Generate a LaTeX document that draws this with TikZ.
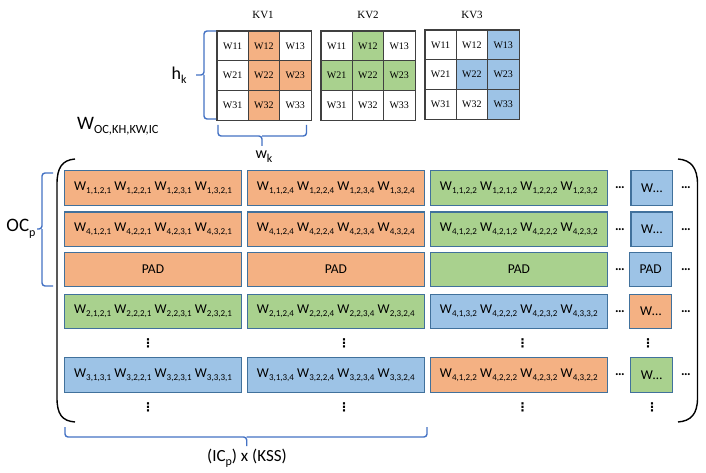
\documentclass[tikz,border=0pt]{standalone}
\usepackage{fontspec}
\setmainfont{Carlito}
\newfontfamily\tnr{Liberation Serif}
\newfontfamily\djv{DejaVu Sans}
\definecolor{orF}{HTML}{F4B183}
\definecolor{grF}{HTML}{A9D18E}
\definecolor{blF}{HTML}{9DC3E6}
\definecolor{edgeC}{HTML}{41719C}
\definecolor{brC}{HTML}{4472C4}
\newcommand\ws[1]{W\kern0.2pt\raisebox{-0.45ex}{\fontsize{9}{9}\selectfont #1}}
\newcommand\wrow[4]{\ws{#1} \ws{#2} \ws{#3} \ws{#4}}
\newcommand\subx[1]{\raisebox{-0.5ex}{\fontsize{12}{12}\selectfont #1}}
\begin{document}
\begin{tikzpicture}[x=1pt,y=-1pt,
  wbox/.style={draw=edgeC, line width=1.1pt, minimum width=177pt, minimum height=34.5pt, inner sep=0pt, font=\fontsize{13.5}{14}\selectfont},
  sbox/.style={wbox, minimum width=41.7pt},
  kcell/.style={draw=black!75, line width=0.6pt, minimum width=31.3pt, minimum height=29.8pt, inner sep=0pt, font=\tnr\fontsize{10}{10}\selectfont},
  kgrid/.style={draw=black!75, line width=1.4pt},
  kvlab/.style={font=\tnr\fontsize{11}{12}\selectfont},
  hdots/.style={inner sep=0pt, font=\bfseries\fontsize{13.5}{14}\selectfont},
  vdot/.style={inner sep=0pt, font=\djv\bfseries\fontsize{12}{12}\selectfont},
  brk/.style={draw=brC, line width=1.4pt, rounded corners=3pt},
  paren/.style={draw=black, line width=1.4pt},
  lbl/.style={inner sep=0pt}
]
\useasboundingbox (0,0) rectangle (706,473);
\fill[white] (0,0) rectangle (706,473);

% ---- kernel grids ----
\node[kvlab] (t1) at (263,15) {KV1};
\node[kvlab] (t2) at (368,15) {KV2};
\node[kvlab] (t3) at (472,15) {KV3};
\foreach \r in {1,2,3}{\foreach \c in {1,2,3}{
  \pgfmathtruncatemacro\on{(\c==2)||(\r==2&&\c==3)}
  \ifnum\on=1 \def\fc{orF}\else\def\fc{white}\fi
  \node[kcell, fill=\fc] (ka-\r\c) at ({217+31.3*(\c-0.5)},{31+29.8*(\r-0.5)}) {W\r\c};
  \pgfmathtruncatemacro\on{(\r==2)||(\r==1&&\c==2)}
  \ifnum\on=1 \def\fc{grF}\else\def\fc{white}\fi
  \node[kcell, fill=\fc] (kb-\r\c) at ({321+31.3*(\c-0.5)},{31+29.8*(\r-0.5)}) {W\r\c};
  \pgfmathtruncatemacro\on{(\c==3)||(\r==2&&\c==2)}
  \ifnum\on=1 \def\fc{blF}\else\def\fc{white}\fi
  \node[kcell, fill=\fc] (kc-\r\c) at ({425+31.3*(\c-0.5)},{30+29.8*(\r-0.5)}) {W\r\c};
}}
\draw[kgrid] (ka-11.north west) rectangle (ka-33.south east);
\draw[kgrid] (kb-11.north west) rectangle (kb-33.south east);
\draw[kgrid] (kc-11.north west) rectangle (kc-33.south east);

% ---- braces of kernel ----
\coordinate (hkA) at (216,31);
\coordinate (hkB) at (216,119);
\coordinate (hkT) at (196,75);
\draw[brk] (hkA) -| (204,75) -- (hkT);
\draw[brk] (hkB) -| (204,75);
\node[lbl, font=\fontsize{18}{18}\selectfont] (hk) at (179,75) {h\subx{k}};

\coordinate (wkA) at (218,125);
\coordinate (wkB) at (306.5,125);
\coordinate (wkT) at (262,146);
\draw[brk] (wkA) |- (262,136) -- (wkT);
\draw[brk] (wkB) |- (262,136);
\node[lbl, font=\fontsize{16}{16}\selectfont] (wk) at (264,157) {w\subx{k}};

\node[lbl, anchor=west, font=\fontsize{19}{19}\selectfont] (wlab) at (77,126) {W\raisebox{-0.5ex}{\fontsize{12.5}{12}\selectfont OC,KH,KW,IC}};

% ---- parentheses ----
\coordinate (lpA) at (75,159);
\coordinate (lpB) at (75,422);
\coordinate (rpA) at (678,159);
\coordinate (rpB) at (678,422);
\draw[paren] (lpA) .. controls (62,160) and (57,168) .. (57,184) -- (57,398) .. controls (57,414) and (62,421) .. (lpB);
\draw[paren] (rpA) .. controls (691,160) and (697.5,168) .. (697.5,184) -- (697.5,398) .. controls (697.5,414) and (691,421) .. (rpB);

% ---- OCp brace ----
\coordinate (ocA) at (53,173);
\coordinate (ocB) at (53,286);
\coordinate (ocT) at (37,229);
\draw[brk] (ocA) -| (42,229) -- (ocT);
\draw[brk] (ocB) -| (42,229);
\node[lbl, font=\fontsize{19}{19}\selectfont] (ocp) at (21,229) {OC\subx{p}};

% ---- bottom brace ----
\coordinate (bbA) at (65,427);
\coordinate (bbB) at (427,427);
\coordinate (bbT) at (246.7,446);
\draw[brk] (bbA) |- (246.7,437) -- (bbT);
\draw[brk] (bbB) |- (246.7,437);
\node[lbl, font=\fontsize{17}{17}\selectfont] (icp) at (247,458) {(IC\subx{p}) x (KSS)};

% ---- rows ----
% row 1
\node[wbox, fill=orF] (b11) at (153,188) {\wrow{1,1,2,1}{1,2,2,1}{1,2,3,1}{1,3,2,1}};
\node[wbox, fill=orF] (b12) at (335.8,188) {\wrow{1,1,2,4}{1,2,2,4}{1,2,3,4}{1,3,2,4}};
\node[wbox, fill=grF] (b13) at (518.8,188) {\wrow{1,1,2,2}{1,2,1,2}{1,2,2,2}{1,2,3,2}};
\node[sbox, fill=blF] (b14) at (651.8,188) {W…};
% row 2
\node[wbox, fill=orF] (b21) at (153,229.2) {\wrow{4,1,2,1}{4,2,2,1}{4,2,3,1}{4,3,2,1}};
\node[wbox, fill=orF] (b22) at (335.8,229.2) {\wrow{4,1,2,4}{4,2,2,4}{4,2,3,4}{4,3,2,4}};
\node[wbox, fill=grF] (b23) at (518.8,229.2) {\wrow{4,1,2,2}{4,2,1,2}{4,2,2,2}{4,2,3,2}};
\node[sbox, fill=blF] (b24) at (651.8,229.2) {W…};
% row 3
\node[wbox, fill=orF] (b31) at (153,269.3) {PAD};
\node[wbox, fill=orF] (b32) at (335.8,269.3) {PAD};
\node[wbox, fill=grF] (b33) at (518.8,269.3) {PAD};
\node[sbox, fill=blF] (b34) at (650.7,269.3) {PAD};
% row 4
\node[wbox, fill=grF] (b41) at (153,311.5) {\wrow{2,1,2,1}{2,2,2,1}{2,2,3,1}{2,3,2,1}};
\node[wbox, fill=grF] (b42) at (335.8,311.5) {\wrow{2,1,2,4}{2,2,2,4}{2,2,3,4}{2,3,2,4}};
\node[wbox, fill=blF] (b43) at (518.8,311.5) {\wrow{4,1,3,2}{4,2,2,2}{4,2,3,2}{4,3,3,2}};
\node[sbox, fill=orF] (b44) at (650.7,311.5) {W…};
% row 6
\node[wbox, fill=blF] (b61) at (153,374.8) {\wrow{3,1,3,1}{3,2,2,1}{3,2,3,1}{3,3,3,1}};
\node[wbox, fill=blF] (b62) at (335.8,374.8) {\wrow{3,1,3,4}{3,2,2,4}{3,2,3,4}{3,3,2,4}};
\node[wbox, fill=orF] (b63) at (518.8,374.8) {\wrow{4,1,2,2}{4,2,2,2}{4,2,3,2}{4,3,2,2}};
\node[sbox, fill=grF] (b64) at (651.5,374.8) {W…};

% horizontal dots
\foreach \y [count=\i] in {188,229.2,269.3,311.5,374.8}{
  \node[hdots] (hl\i) at (620,\y) {…};
  \node[hdots] (hr\i) at (686,\y) {…};
}
% vertical dots
\node[vdot] (v51) at (148,343) {⋮};
\node[vdot] (v52) at (344,343) {⋮};
\node[vdot] (v53) at (522.7,343) {⋮};
\node[vdot] (v54) at (648,343) {⋮};
\node[vdot] (v71) at (148,407) {⋮};
\node[vdot] (v72) at (344,407) {⋮};
\node[vdot] (v73) at (522.7,407) {⋮};
\node[vdot] (v74) at (652,407) {⋮};
\end{tikzpicture}
\end{document}
